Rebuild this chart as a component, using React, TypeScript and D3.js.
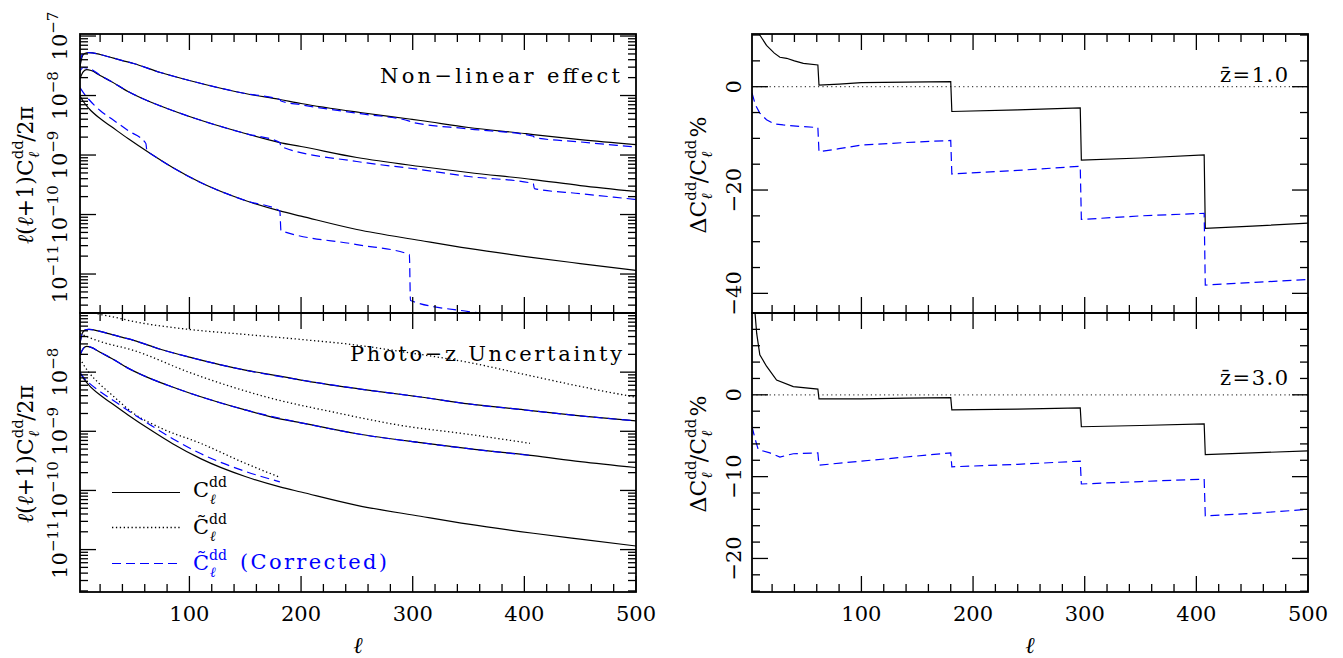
import React from "react";
import * as d3 from "d3";

type Pt = [number, number];

// multipole ticks
const ellMajor = [100, 200, 300, 400, 500];
const ellMinor = [20, 40, 60, 80, 120, 140, 160, 180, 220, 240, 260, 280, 320, 340, 360, 380, 420, 440, 460, 480];

// upper left: non-linear effect, true spectra (black) and corrected (blue)
const nlTrueA: Pt[] = [[2, 3.07e-8], [4, 4.52e-8], [6, 5.08e-8], [10, 5.28e-8], [20, 4.89e-8], [30, 4.35e-8], [40, 3.87e-8], [50, 3.45e-8], [74, 2.44e-8], [100, 1.79e-8], [150, 1.08e-8], [181, 8.57e-9], [200, 7.34e-9], [253, 5.18e-9], [297, 4.03e-9], [307, 3.8e-9], [350, 2.9e-9], [400, 2.3e-9], [408, 2.21e-9], [450, 1.82e-9], [500, 1.5e-9]];
const nlCorrA: Pt[] = [[2, 3.6e-8], [4, 4.9e-8], [7, 5.2e-8], [10, 5.28e-8], [20, 4.89e-8], [30, 4.35e-8], [40, 3.87e-8], [50, 3.45e-8], [74, 2.44e-8], [100, 1.79e-8], [150, 1.08e-8], [181, 8.57e-9], [182, 8.09e-9], [200, 7.0e-9], [253, 4.95e-9], [297, 3.72e-9], [298, 3.6e-9], [350, 2.75e-9], [408, 2.08e-9], [409, 1.97e-9], [450, 1.66e-9], [500, 1.36e-9]];
const nlTrueB: Pt[] = [[2, 1.93e-8], [5, 2.53e-8], [8, 2.73e-8], [12, 2.63e-8], [20, 2.17e-8], [30, 1.72e-8], [45, 1.17e-8], [62, 8.24e-9], [80, 6.05e-9], [100, 4.44e-9], [150, 2.3e-9], [181, 1.62e-9], [200, 1.39e-9], [250, 9.08e-10], [307, 6.41e-10], [350, 5.08e-10], [408, 3.87e-10], [450, 3.07e-10], [500, 2.44e-10]];
const nlCorrB: Pt[] = [[2, 2.6e-8], [5, 2.96e-8], [8, 2.9e-8], [12, 2.75e-8], [20, 2.2e-8], [30, 1.72e-8], [45, 1.17e-8], [62, 8.24e-9], [80, 6.05e-9], [100, 4.44e-9], [150, 2.3e-9], [181, 1.62e-9], [182, 1.39e-9], [250, 7.78e-10], [307, 5.69e-10], [350, 4.36e-10], [408, 3.32e-10], [409, 2.73e-10], [450, 2.25e-10], [500, 1.79e-10]];
const nlTrueC: Pt[] = [[2, 9.82e-9], [5, 7.93e-9], [10, 6.05e-9], [20, 4.1e-9], [30, 3.01e-9], [45, 1.89e-9], [65, 1.06e-9], [85, 6.17e-10], [110, 3.45e-10], [150, 1.72e-10], [181, 1.15e-10], [200, 9.4e-11], [250, 5.6e-11], [307, 3.66e-11], [350, 2.69e-11], [408, 1.89e-11], [450, 1.5e-11], [500, 1.15e-11]];
const nlCorrC: Pt[] = [[2, 1.36e-8], [5, 1.12e-8], [10, 8.57e-9], [20, 5.6e-9], [30, 4.1e-9], [45, 2.58e-9], [61, 1.56e-9], [62, 1.15e-9], [65, 1.06e-9], [85, 6.17e-10], [110, 3.45e-10], [150, 1.72e-10], [181, 1.15e-10], [182, 5.38e-11], [250, 3.13e-11], [297, 2.13e-11], [298, 3.59e-12], [350, 2.34e-12], [408, 1.79e-12], [450, 1.4e-12], [500, 1.0e-12]];

// lower left: photo-z uncertainty, smeared spectra (dotted) and corrected (blue)
const pzTildeA: Pt[] = [[2, 1.35e-7], [8, 1.15e-7], [17, 9.81e-8], [30, 8.73e-8], [50, 7.19e-8], [100, 5.27e-8], [150, 4.34e-8], [200, 3.57e-8], [245, 2.94e-8], [289, 2.24e-8], [350, 1.46e-8], [400, 9.16e-9], [450, 5.74e-9], [500, 3.75e-9]];
const pzTildeB: Pt[] = [[2, 4.51e-8], [10, 3.86e-8], [20, 3.3e-8], [50, 2.33e-8], [100, 9.9e-9], [170, 3.75e-9], [230, 2.09e-9], [289, 1.26e-9], [350, 8.9e-10], [405, 6.27e-10]];
const pzTildeC: Pt[] = [[2, 1.71e-8], [5, 1.35e-8], [10, 9.9e-9], [20, 6.21e-9], [30, 4.21e-9], [50, 2.01e-9], [75, 1.12e-9], [110, 6.27e-10], [150, 2.88e-10], [181, 1.67e-10]];
const pzCorrA: Pt[] = [[2, 3.07e-8], [4, 4.52e-8], [6, 5.08e-8], [10, 5.28e-8], [20, 4.89e-8], [30, 4.35e-8], [40, 3.87e-8], [50, 3.45e-8], [74, 2.44e-8], [100, 1.79e-8], [150, 1.08e-8], [200, 7.34e-9], [253, 5.18e-9], [307, 3.8e-9], [350, 2.9e-9], [400, 2.3e-9], [450, 1.82e-9], [500, 1.5e-9]];
const pzCorrB: Pt[] = [[2, 1.93e-8], [5, 2.53e-8], [8, 2.73e-8], [12, 2.63e-8], [20, 2.17e-8], [30, 1.72e-8], [45, 1.17e-8], [62, 8.24e-9], [80, 6.05e-9], [100, 4.44e-9], [150, 2.3e-9], [200, 1.39e-9], [250, 9.08e-10], [307, 6.41e-10], [350, 5.08e-10], [408, 3.87e-10]];
const pzCorrC: Pt[] = [[2, 9.82e-9], [5, 8.2e-9], [10, 6.6e-9], [20, 4.7e-9], [30, 3.5e-9], [45, 2.25e-9], [65, 1.28e-9], [85, 7.5e-10], [110, 4.2e-10], [150, 2.1e-10], [181, 1.4e-10]];

// right: percentage differences, zbar = 1.0 and 3.0
const diffZ1: Pt[] = [[2, 13], [9, 10], [15, 8.0], [22, 6.5], [27, 5.7], [33, 5.5], [40, 5.0], [48, 4.5], [61, 4.2], [62, 0.3], [80, 0.5], [100, 0.8], [140, 0.9], [180, 1.0], [181, -4.8], [240, -4.5], [296, -4.1], [297, -14.2], [350, -13.8], [407, -13.2], [408, -27.4], [450, -27.0], [500, -26.4]];
const diffCorrZ1: Pt[] = [[2, -1.2], [5, -3.5], [9, -5.1], [15, -6.4], [22, -7.2], [30, -7.4], [45, -7.7], [61, -7.9], [62, -12.6], [80, -12.0], [100, -11.3], [140, -10.8], [180, -10.4], [181, -16.9], [240, -16.2], [296, -15.4], [297, -25.7], [350, -25.0], [407, -24.5], [408, -38.4], [450, -37.9], [500, -37.3]];
const diffZ3: Pt[] = [[2, 14], [4.7, 10], [6.2, 7.5], [9, 4.9], [15, 3.5], [24, 1.8], [39, 1.0], [61, 0.7], [62, -0.5], [100, -0.5], [140, -0.4], [180, -0.35], [181, -1.85], [240, -1.75], [296, -1.6], [297, -3.9], [350, -3.75], [407, -3.55], [408, -7.3], [450, -7.1], [500, -6.85]];
const diffCorrZ3: Pt[] = [[2, -3.9], [5, -5.5], [7.6, -6.7], [18, -7.1], [27, -7.6], [39, -7.2], [61, -7.1], [62, -8.6], [100, -8.1], [140, -7.6], [180, -7.1], [181, -8.8], [240, -8.5], [296, -8.1], [297, -10.9], [350, -10.6], [407, -10.3], [408, -14.8], [450, -14.5], [500, -14.0]];

const logLabelsTop = [-7, -8, -9, -10, -11];
const logLabelsBot = [-8, -9, -10, -11];
const pctLabelsTop = [0, -20, -40];
const pctLabelsBot = [0, -10, -20];

const FONT = "'DejaVu Serif', serif";
const BLUE = "#0000ff";
const DASH = "9,5";
const DOT = "1.3,2.6";

function logTicks(dom: number[]) {
  const major: number[] = [];
  const minor: number[] = [];
  for (let e = -13; e <= -6; e++) {
    for (let k = 1; k <= 9; k++) {
      const v = k * Math.pow(10, e);
      if (v < dom[0] || v > dom[1]) continue;
      (k === 1 ? major : minor).push(v);
    }
  }
  return { major, minor };
}

function Panel({ xs, ys, yMajor, yMinor, id, children }: any) {
  const [x0, x1] = xs.range();
  const [y1, y0] = ys.range();
  const segs: number[][] = [];
  ellMajor.forEach(v => { const x = xs(v); segs.push([x, y1, x, y1 - 16], [x, y0, x, y0 + 16]); });
  ellMinor.forEach(v => { const x = xs(v); segs.push([x, y1, x, y1 - 8], [x, y0, x, y0 + 8]); });
  yMajor.forEach((v: number) => { const y = ys(v); segs.push([x0, y, x0 + 16, y], [x1, y, x1 - 16, y]); });
  yMinor.forEach((v: number) => { const y = ys(v); segs.push([x0, y, x0 + 8, y], [x1, y, x1 - 8, y]); });
  return (
    <g>
      <defs>
        <clipPath id={id}><rect x={x0} y={y0} width={x1 - x0} height={y1 - y0} /></clipPath>
      </defs>
      <g clipPath={`url(#${id})`}>{children}</g>
      {segs.map((s, i) => <line key={i} x1={s[0]} y1={s[1]} x2={s[2]} y2={s[3]} stroke="#000" strokeWidth={1.3} />)}
      <rect x={x0} y={y0} width={x1 - x0} height={y1 - y0} fill="none" stroke="#000" strokeWidth={1.8} />
    </g>
  );
}

// C with stacked "dd" superscript and ell subscript, as one text run
function Cdd({ x, y, tilde, color = "#000" }: any) {
  return (
    <text x={x} y={y} fontSize={21} fill={color} fontFamily={FONT}>
      {tilde ? "C\u0303" : "C"}
      <tspan fontSize={14} dy={-10}>dd</tspan>
      <tspan fontSize={14} fontStyle="italic" dx={-17} dy={17}>ℓ</tspan>
    </text>
  );
}

export default function App() {
  const xL = d3.scaleLinear().domain([2, 500]).range([80, 636]);
  const xR = d3.scaleLinear().domain([2, 500]).range([752, 1308]);
  const yTL = d3.scaleLog().domain([Math.pow(10, -11.655), Math.pow(10, -6.966)]).range([313, 34]);
  const yBL = d3.scaleLog().domain([Math.pow(10, -11.717), 1e-7]).range([592, 313]);
  const yTR = d3.scaleLinear().domain([-43.8, 10.2]).range([313, 34]);
  const yBR = d3.scaleLinear().domain([-24.1, 10]).range([592, 313]);

  const smooth = (xs: any, ys: any, d: Pt[]) => d3.line<Pt>().x(p => xs(p[0])).y(p => ys(p[1])).curve(d3.curveMonotoneX)(d) || "";
  const straight = (xs: any, ys: any, d: Pt[]) => d3.line<Pt>().x(p => xs(p[0])).y(p => ys(p[1]))(d) || "";

  const tTL = logTicks(yTL.domain());
  const tBL = logTicks(yBL.domain());
  const trMajor = [0, -20, -40];
  const trMinor = d3.range(10, -44, -5).filter(v => v % 20 !== 0);
  const brMajor = [0, -10, -20];
  const brMinor = d3.range(8, -25, -2).filter(v => v % 10 !== 0);

  const solid = (p: string) => <path d={p} fill="none" stroke="#000" strokeWidth={1.2} />;
  const dashed = (p: string) => <path d={p} fill="none" stroke={BLUE} strokeWidth={1.2} strokeDasharray={DASH} />;
  const dotted = (p: string) => <path d={p} fill="none" stroke="#000" strokeWidth={1.3} strokeDasharray={DOT} />;

  const logLabel = (e: number, ys: any, key: string) => (
    <text key={key} transform={`translate(67,${ys(Math.pow(10, e))}) rotate(-90)`} textAnchor="middle" fontSize={21}>
      10<tspan fontSize={15} dy={-9}>{"\u2212" + Math.abs(e)}</tspan>
    </text>
  );
  const pctLabel = (v: number, ys: any, key: string) => (
    <text key={key} transform={`translate(741,${ys(v)}) rotate(-90)`} textAnchor="middle" fontSize={21}>
      {v < 0 ? "\u2212" + Math.abs(v) : String(v)}
    </text>
  );

  const leftTitle = (cy: number) => (
    <text transform={`translate(33,${cy}) rotate(-90)`} textAnchor="middle" fontSize={22}>
      <tspan fontStyle="italic">ℓ</tspan>(<tspan fontStyle="italic">ℓ</tspan>+1)C
      <tspan fontSize={15} dy={-10}>dd</tspan>
      <tspan fontSize={15} fontStyle="italic" dx={-18} dy={16}>ℓ</tspan>
      <tspan dx={10} dy={-6}>/2π</tspan>
    </text>
  );
  const rightTitle = (cy: number) => (
    <text transform={`translate(706,${cy}) rotate(-90)`} textAnchor="middle" fontSize={22}>
      ΔC<tspan fontSize={15} dy={-10}>dd</tspan>
      <tspan fontSize={15} fontStyle="italic" dx={-18} dy={16}>ℓ</tspan>
      <tspan dx={10} dy={-6}>/C</tspan>
      <tspan fontSize={15} dy={-10}>dd</tspan>
      <tspan fontSize={15} fontStyle="italic" dx={-18} dy={16}>ℓ</tspan>
      <tspan dx={14} dy={-6}>%</tspan>
    </text>
  );

  return (
    <svg width={1343} height={658} style={{ position: "absolute", left: 0, top: 0, background: "#fff" }} fontFamily={FONT}>
      <rect width={1343} height={658} fill="#fff" />

      {/* upper left */}
      <Panel xs={xL} ys={yTL} yMajor={tTL.major} yMinor={tTL.minor} id="cTL">
        {solid(smooth(xL, yTL, nlTrueA))}
        {dashed(smooth(xL, yTL, nlCorrA))}
        {solid(smooth(xL, yTL, nlTrueB))}
        {dashed(smooth(xL, yTL, nlCorrB))}
        {solid(smooth(xL, yTL, nlTrueC))}
        {dashed(smooth(xL, yTL, nlCorrC))}
      </Panel>
      {logLabelsTop.map(e => logLabel(e, yTL, "tl" + e))}
      {leftTitle(175)}
      <text x={380} y={83} fontSize={21} textLength={240} lengthAdjust="spacing">Non−linear effect</text>

      {/* lower left */}
      <Panel xs={xL} ys={yBL} yMajor={tBL.major} yMinor={tBL.minor} id="cBL">
        {dotted(smooth(xL, yBL, pzTildeA))}
        {dotted(smooth(xL, yBL, pzTildeB))}
        {dotted(smooth(xL, yBL, pzTildeC))}
        {solid(smooth(xL, yBL, nlTrueA))}
        {solid(smooth(xL, yBL, nlTrueB))}
        {solid(smooth(xL, yBL, nlTrueC))}
        {dashed(smooth(xL, yBL, pzCorrA))}
        {dashed(smooth(xL, yBL, pzCorrB))}
        {dashed(smooth(xL, yBL, pzCorrC))}
      </Panel>
      {logLabelsBot.map(e => logLabel(e, yBL, "bl" + e))}
      {leftTitle(454)}
      <text x={350} y={361} fontSize={21} textLength={272} lengthAdjust="spacing">Photo−z Uncertainty</text>

      {/* legend */}
      <line x1={112} x2={180} y1={492.5} y2={492.5} stroke="#000" strokeWidth={1.2} />
      <line x1={112} x2={180} y1={527.5} y2={527.5} stroke="#000" strokeWidth={1.3} strokeDasharray={DOT} />
      <line x1={112} x2={180} y1={563.5} y2={563.5} stroke={BLUE} strokeWidth={1.2} strokeDasharray={DASH} />
      <Cdd x={193} y={497} />
      <Cdd x={193} y={534} tilde />
      <Cdd x={193} y={570} tilde color={BLUE} />
      <text x={240} y={569} fontSize={21} fill={BLUE} textLength={147} lengthAdjust="spacing">(Corrected)</text>

      {/* upper right */}
      <Panel xs={xR} ys={yTR} yMajor={trMajor} yMinor={trMinor} id="cTR">
        <line x1={752} x2={1308} y1={yTR(0)} y2={yTR(0)} stroke="#444" strokeWidth={1.2} strokeDasharray="1.2,3.2" />
        {solid(straight(xR, yTR, diffZ1))}
        {dashed(straight(xR, yTR, diffCorrZ1))}
      </Panel>
      {pctLabelsTop.map(v => pctLabel(v, yTR, "tr" + v))}
      {rightTitle(175)}
      <text x={1220} y={82} fontSize={21} textLength={68} lengthAdjust="spacing">z̄=1.0</text>

      {/* lower right */}
      <Panel xs={xR} ys={yBR} yMajor={brMajor} yMinor={brMinor} id="cBR">
        <line x1={752} x2={1308} y1={yBR(0)} y2={yBR(0)} stroke="#444" strokeWidth={1.2} strokeDasharray="1.2,3.2" />
        {solid(straight(xR, yBR, diffZ3))}
        {dashed(straight(xR, yBR, diffCorrZ3))}
      </Panel>
      {pctLabelsBot.map(v => pctLabel(v, yBR, "br" + v))}
      {rightTitle(454)}
      <text x={1220} y={385} fontSize={21} textLength={68} lengthAdjust="spacing">z̄=3.0</text>

      {/* x axes */}
      {ellMajor.map(v => (
        <g key={"xl" + v}>
          <text x={xL(v)} y={621} textAnchor="middle" fontSize={21}>{v}</text>
          <text x={xR(v)} y={621} textAnchor="middle" fontSize={21}>{v}</text>
        </g>
      ))}
      <text x={358} y={653} textAnchor="middle" fontSize={23} fontStyle="italic">ℓ</text>
      <text x={1030} y={653} textAnchor="middle" fontSize={23} fontStyle="italic">ℓ</text>
    </svg>
  );
}
